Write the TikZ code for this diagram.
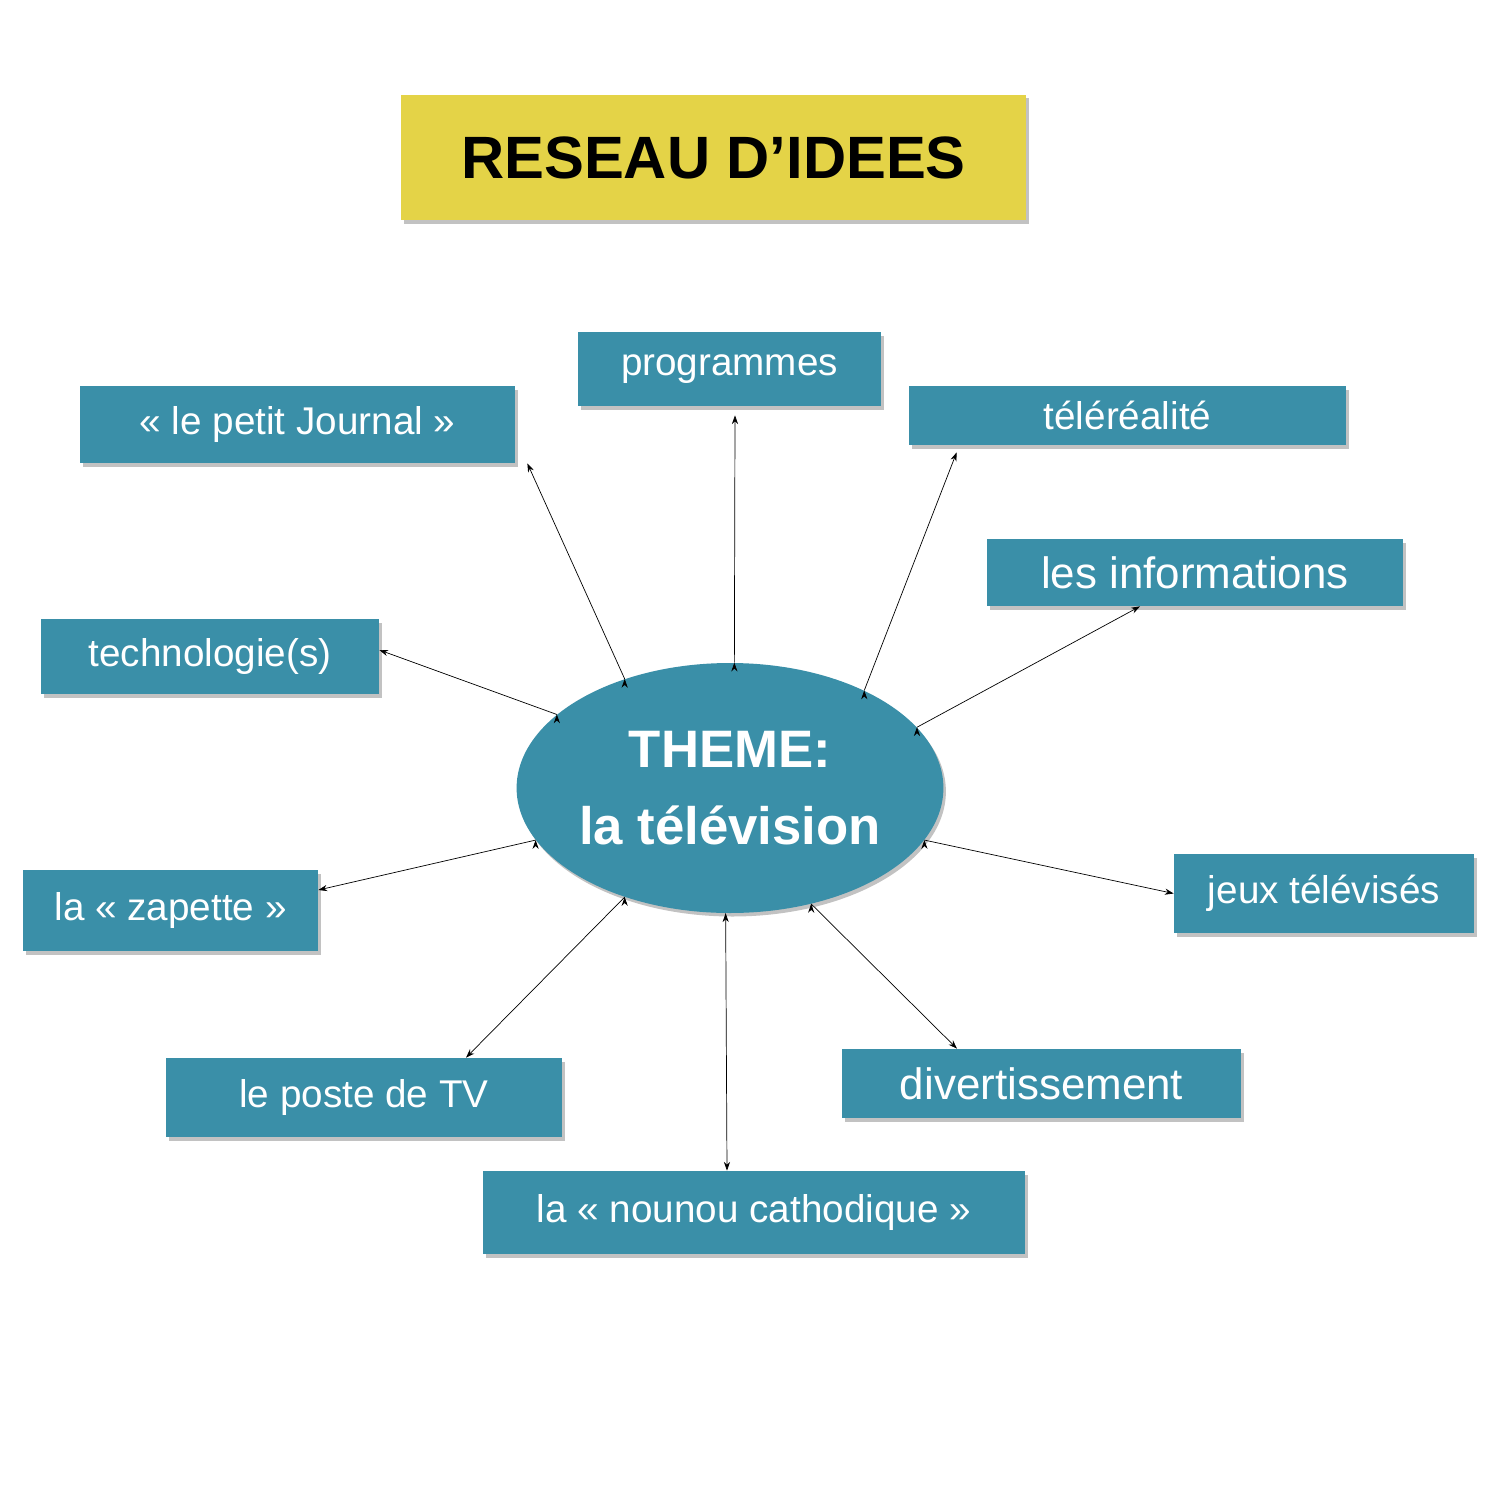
\documentclass[tikz,border=0pt]{standalone}
\usepackage{fontspec}
\setmainfont{Liberation Sans}
\usepackage{xcolor}
\usetikzlibrary{arrows.meta,shadows,shapes.geometric}
\definecolor{tealbox}{HTML}{3A8FA8}
\definecolor{titleyel}{HTML}{E4D347}

\tikzset{
  ideabox/.style={rectangle,fill=tealbox,text=white,inner sep=0pt,
    font=\fontsize{22}{26}\selectfont,
    drop shadow={shadow xshift=0.05cm,shadow yshift=-0.07cm,fill=black!40,opacity=0.6}},
  link/.style={draw=black,thin,-{Stealth[length=5pt,width=3.5pt]}}
}

\begin{document}
\begin{tikzpicture}
\useasboundingbox (0,0) rectangle (29.76,-30.08);

\node[rectangle,fill=titleyel,minimum width=12.5cm,minimum height=2.5cm,
      font=\fontsize{34}{40}\selectfont\bfseries,
      drop shadow={shadow xshift=0.05cm,shadow yshift=-0.07cm,fill=black!40,opacity=0.6}]
      (title) at (14.27,-3.15) {RESEAU D'IDEES};

\begin{scope}[every node/.append style={ideabox}]
    \node[minimum width=6.06cm,minimum height=1.48cm] (prog) at (14.59,-7.38) {programmes};
    \node[minimum width=8.7cm,minimum height=1.54cm] (jour) at (5.95,-8.49) {« le petit Journal »};
    \node[minimum width=8.74cm,minimum height=1.18cm] (tele) at (22.55,-8.31) {téléréalité};
    \node[minimum width=8.32cm,minimum height=1.34cm,font=\fontsize{25}{30}\selectfont] (info) at (23.9,-11.45) {les informations};
    \node[minimum width=6.76cm,minimum height=1.5cm] (tech) at (4.2,-13.13) {technologie(s)};
    \node[minimum width=5.9cm,minimum height=1.62cm] (zap) at (3.41,-18.21) {la « zapette »};
    \node[minimum width=6cm,minimum height=1.58cm] (jeux) at (26.48,-17.87) {jeux télévisés};
    \node[minimum width=7.92cm,minimum height=1.58cm] (poste) at (7.28,-21.95) {le poste de TV};
    \node[minimum width=7.98cm,minimum height=1.38cm,font=\fontsize{25}{30}\selectfont] (div) at (20.83,-21.67) {divertissement};
    \node[minimum width=10.84cm,minimum height=1.66cm] (nou) at (15.08,-24.25) {la « nounou cathodique »};
\end{scope}

\node[ellipse,fill=tealbox,text=white,minimum width=8.12cm,minimum height=5cm,inner sep=0pt,
      align=center,font=\fontsize{30}{44}\selectfont\bfseries,
      drop shadow={shadow xshift=0.05cm,shadow yshift=-0.07cm,fill=black!40,opacity=0.6}]
      (tv) at (14.6,-15.76) {THEME:\\la télévision};

\path[link] (tv.134) edge ([xshift=0.24cm]jour.south east);
\path[link] (tv.88)  edge ([xshift=0.11cm,yshift=-0.18cm]prog.south);
\path[link] (tv.36)  edge ([xshift=0.96cm,yshift=-0.14cm]tele.south west);
\path[link] (tv.18)  edge ([xshift=-1.1cm]info.south);
\path[link] (tv.157) edge ([yshift=0.13cm]tech.east);
\path[link] (tv.195) edge ([yshift=0.41cm]zap.east);
\path[link] (tv.345) edge (jeux.west);
\path[link] (tv.226) edge ([xshift=2.04cm]poste.north);
\path[link] (tv.268) edge ([xshift=-0.54cm]nou.north);
\path[link] (tv.305) edge ([xshift=-1.69cm]div.north);
\end{tikzpicture}
\end{document}
